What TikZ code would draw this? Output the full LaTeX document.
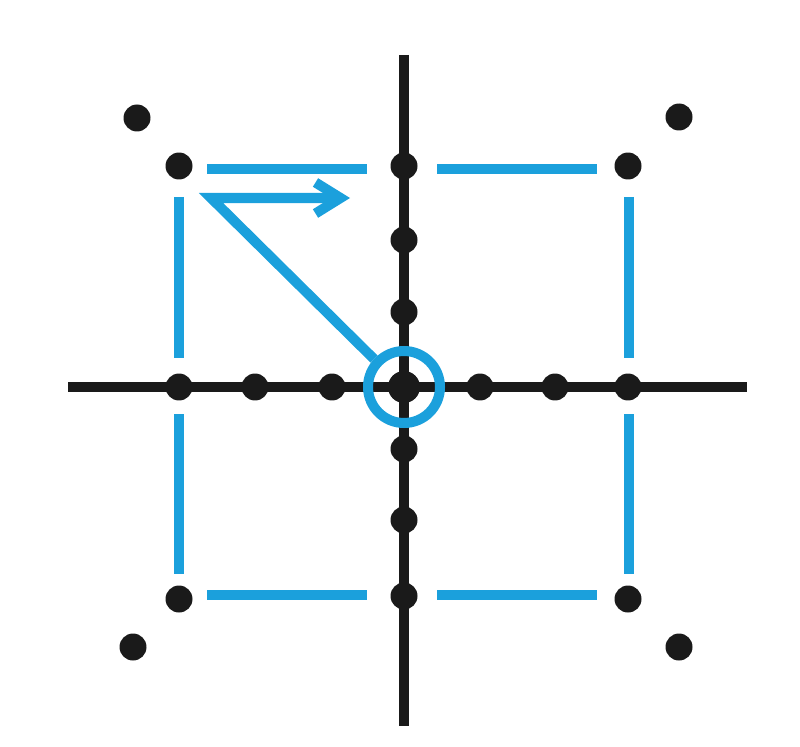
\documentclass[tikz,border=0pt]{standalone}
\usepackage{tikz}
\usetikzlibrary{arrows.meta}
\definecolor{gridblack}{RGB}{26,26,26}
\definecolor{moveblue}{RGB}{27,160,220}

\begin{document}
\begin{tikzpicture}[x=0.02cm,y=-0.02cm,
        axis/.style={draw=gridblack,line width=6.2pt},
        side/.style={draw=moveblue,line width=5.7pt},
        site/.style={circle,fill=gridblack,inner sep=0pt,minimum size=0.54cm},
        origin/.style={circle,fill=gridblack,inner sep=0pt,minimum size=0.64cm},
        ring/.style={circle,draw=moveblue,line width=5.7pt,inner sep=0pt,minimum size=1.44cm}]
        \useasboundingbox (0,0) rectangle (800,746);
        \coordinate (west) at (68,387);
        \coordinate (east) at (747,387);
        \coordinate (north) at (404,55);
        \coordinate (south) at (404,726);
        \draw [axis] (west) -- (east);
        \draw [axis] (north) -- (south);
        % blue square, broken at the axes and corners
        \draw [side] (207,169) -- (367,169);
        \draw [side] (437,169) -- (597,169);
        \draw [side] (207,595) -- (367,595);
        \draw [side] (437,595) -- (597,595);
        \draw [side] (179,197) -- (179,358);
        \draw [side] (179,414) -- (179,574);
        \draw [side] (629,197) -- (629,358);
        \draw [side] (629,414) -- (629,574);
        % sites on the axes
        \node [site] (h1) at (179,387) {};
        \node [site] (h2) at (255,387) {};
        \node [site] (h3) at (332,387) {};
        \node [site] (h5) at (480,387) {};
        \node [site] (h6) at (555,387) {};
        \node [site] (h7) at (628,387) {};
        \node [site] (v1) at (404,166) {};
        \node [site] (v2) at (404,240) {};
        \node [site] (v3) at (404,312) {};
        \node [site] (v5) at (404,449) {};
        \node [site] (v6) at (404,520) {};
        \node [site] (v7) at (404,596) {};
        \node [origin] (o) at (404,387) {};
        % corners
        \node [site] (c1) at (179,166) {};
        \node [site] (c2) at (628,166) {};
        \node [site] (c3) at (179,599) {};
        \node [site] (c4) at (628,599) {};
        \node [site] (f1) at (137,118) {};
        \node [site] (f2) at (679,117) {};
        \node [site] (f3) at (133,647) {};
        \node [site] (f4) at (679,647) {};
        \node [ring] (r) at (o) {};
        \coordinate (bend) at (211,198);
        \coordinate (tip) at (350,198);
        \draw [side,-{Straight Barb[length=0.5cm,width=0.62cm]}] (r.137) -- (bend) -- (tip);
    \end{tikzpicture}
\end{document}
